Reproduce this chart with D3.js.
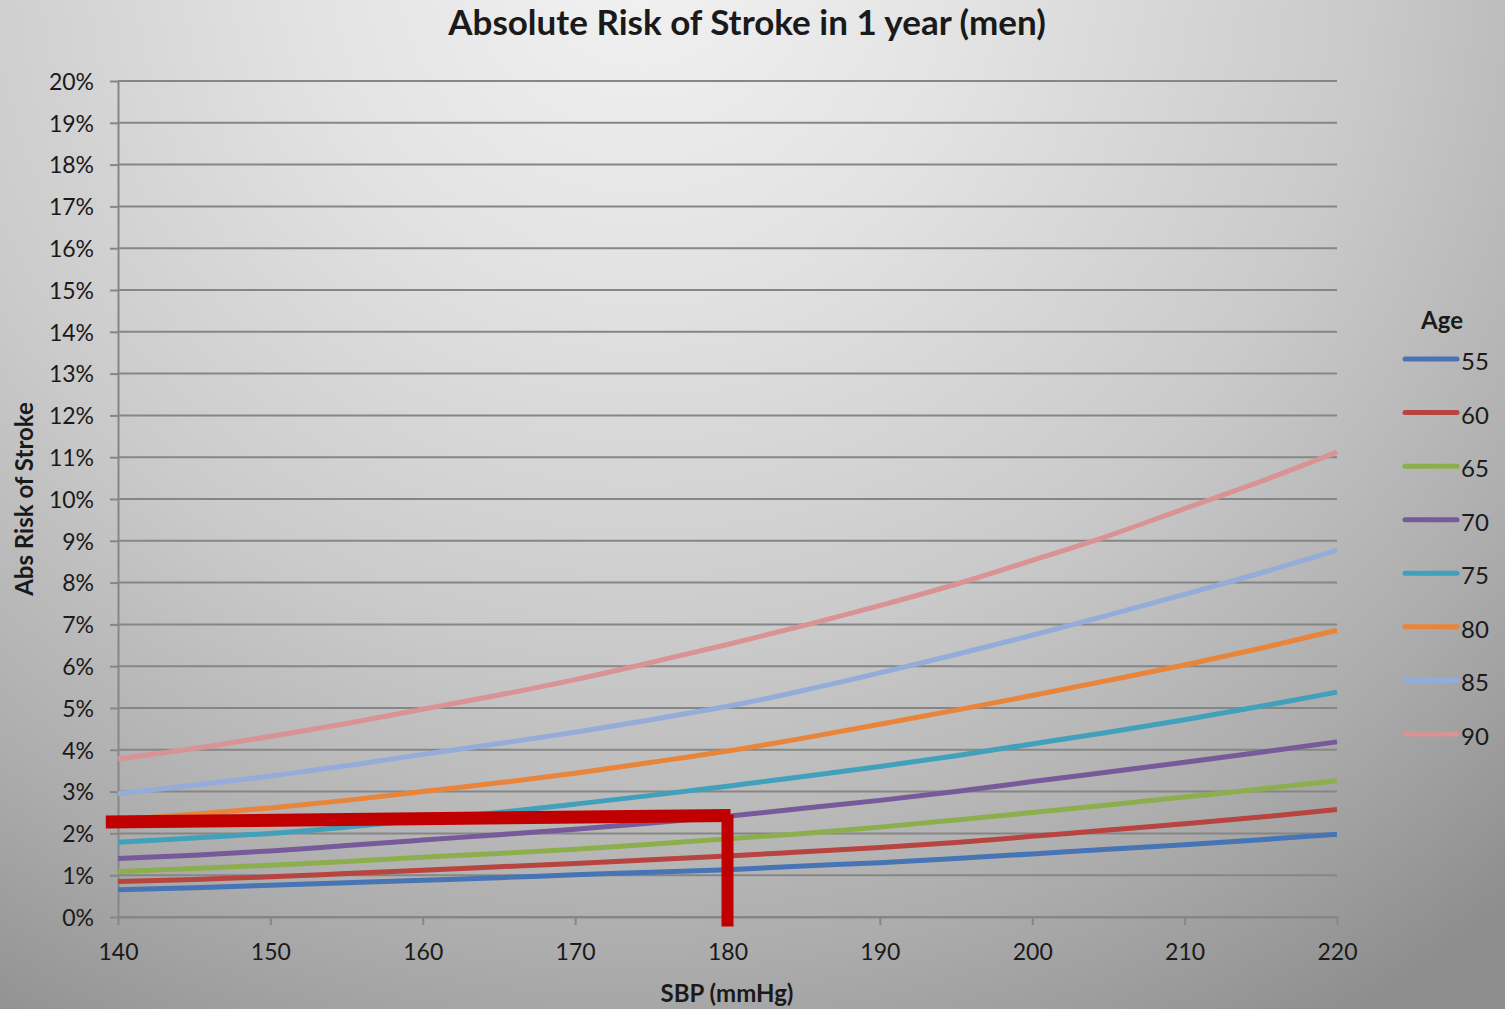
<!DOCTYPE html>
<html>
<head>
<meta charset="utf-8">
<script src="https://cdn.jsdelivr.net/npm/d3@7"></script>
<style>
  html, body { margin: 0; padding: 0; background: #c8c8c8; }
  svg { display: block; }
  text { font-family: Lato, "Open Sans", sans-serif; fill: #1a1a1a; }
</style>
</head>
<body>
<svg id="chart" width="1505" height="1009"></svg>
<script>
// Systolic blood pressure (mmHg) sampled every 5 mmHg
const sbp = [140, 145, 150, 155, 160, 165, 170, 175, 180, 185, 190, 195, 200, 205, 210, 215, 220];

// Absolute 1-year stroke risk (%) by age group
const age55 = [0.65, 0.70, 0.76, 0.82, 0.88, 0.94, 1.01, 1.07, 1.13, 1.22, 1.30, 1.40, 1.51, 1.62, 1.73, 1.85, 1.98];
const age60 = [0.85, 0.90, 0.96, 1.04, 1.12, 1.20, 1.28, 1.37, 1.46, 1.56, 1.66, 1.78, 1.93, 2.08, 2.23, 2.39, 2.57];
const age65 = [1.09, 1.16, 1.24, 1.33, 1.43, 1.52, 1.62, 1.74, 1.87, 2.00, 2.15, 2.32, 2.50, 2.68, 2.87, 3.06, 3.26];
const age70 = [1.40, 1.48, 1.58, 1.71, 1.84, 1.97, 2.10, 2.25, 2.41, 2.60, 2.79, 3.00, 3.24, 3.47, 3.70, 3.94, 4.19];
const age75 = [1.79, 1.89, 2.00, 2.15, 2.32, 2.50, 2.70, 2.91, 3.13, 3.36, 3.60, 3.86, 4.14, 4.42, 4.72, 5.04, 5.38];
const age80 = [2.33, 2.46, 2.61, 2.79, 3.00, 3.21, 3.44, 3.70, 3.97, 4.28, 4.61, 4.95, 5.30, 5.66, 6.03, 6.43, 6.86];
const age85 = [2.95, 3.15, 3.37, 3.62, 3.89, 4.15, 4.42, 4.72, 5.04, 5.42, 5.84, 6.28, 6.74, 7.22, 7.72, 8.23, 8.77];
const age90 = [3.78, 4.03, 4.32, 4.63, 4.97, 5.31, 5.68, 6.09, 6.52, 6.97, 7.45, 7.96, 8.53, 9.12, 9.77, 10.42, 11.12];

const ageLabels = ["55", "60", "65", "70", "75", "80", "85", "90"];
const ageSeries = [age55, age60, age65, age70, age75, age80, age85, age90];
const ageColors = ["#4674B4", "#B84440", "#8DAE4C", "#765A9A", "#41A0BA", "#E8853A", "#93ACDA", "#D99394"];

// Axis ticks
const xTickValues = [140, 150, 160, 170, 180, 190, 200, 210, 220];
const yTickValues = [0, 1, 2, 3, 4, 5, 6, 7, 8, 9, 10, 11, 12, 13, 14, 15, 16, 17, 18, 19, 20];

// Red reading guide: from the y axis across to SBP 180, then down to the x axis
const guideSbp = [139.2, 180.2];
const guideRisk = [2.27, 2.43];
const guideDrop = [2.45, -0.23];

const svg = d3.select("#chart");
const W = 1505, H = 1009;
const margin = { left: 118, right: W - 1337, top: 81, bottom: H - 917 };

// Background shading
const defs = svg.append("defs");
const bg = defs.append("radialGradient")
  .attr("id", "bgGrad")
  .attr("gradientUnits", "userSpaceOnUse")
  .attr("cx", 640).attr("cy", -40).attr("r", 1250)
  .attr("gradientTransform", "translate(640,-40) scale(1.05,1) translate(-640,40)");
[[0, "#f2f2f2"], [0.25, "#e3e3e3"], [0.55, "#cacaca"], [0.8, "#acacac"], [1, "#8e8e8e"]]
  .forEach(([o, c]) => bg.append("stop").attr("offset", o).attr("stop-color", c));
svg.append("rect").attr("width", W).attr("height", H).attr("fill", "url(#bgGrad)");

const x = d3.scaleLinear().domain([140, 220]).range([margin.left, W - margin.right]);
const y = d3.scaleLinear().domain([0, 20]).range([H - margin.bottom, margin.top]);

const gridColor = "#868686";

// Y axis with short tick stubs to the left
svg.append("g")
  .attr("transform", `translate(${margin.left},0)`)
  .call(d3.axisLeft(y).tickValues(yTickValues).tickSize(8).tickSizeOuter(0).tickFormat(d => d + "%").tickPadding(16))
  .call(g => {
    g.select(".domain").attr("stroke", gridColor).attr("stroke-width", 2);
    g.selectAll(".tick line").attr("stroke", gridColor).attr("stroke-width", 2);
    g.selectAll(".tick text").attr("font-size", 23).attr("fill", "#1a1a1a").attr("dy", "0.36em").attr("font-family", "Lato");
  });

// Horizontal gridlines
svg.append("g")
  .selectAll("line")
  .data(yTickValues)
  .join("line")
  .attr("x1", margin.left).attr("x2", W - margin.right)
  .attr("y1", d => y(d)).attr("y2", d => y(d))
  .attr("stroke", gridColor).attr("stroke-width", 2);

// X axis
svg.append("g")
  .attr("transform", `translate(0,${y(0)})`)
  .call(d3.axisBottom(x).tickValues(xTickValues).tickSize(8).tickSizeOuter(0).tickPadding(19))
  .call(g => {
    g.select(".domain").attr("stroke", gridColor).attr("stroke-width", 2);
    g.selectAll(".tick line").attr("stroke", gridColor).attr("stroke-width", 2);
    g.selectAll(".tick text").attr("font-size", 23).attr("fill", "#1a1a1a").attr("font-family", "Lato");
  });

// Risk curves
const line = d3.line()
  .x((d, i) => x(sbp[i]))
  .y(d => y(d))
  .curve(d3.curveMonotoneX);

svg.append("g")
  .selectAll("path")
  .data(ageSeries)
  .join("path")
  .attr("d", d => line(d))
  .attr("fill", "none")
  .attr("stroke", (d, i) => ageColors[i])
  .attr("stroke-width", 5)
  .attr("stroke-linecap", "butt")
  .attr("stroke-linejoin", "round");

// Reading guide
svg.append("path")
  .attr("d", `M${x(guideSbp[0])},${y(guideRisk[0])}L${x(guideSbp[1])},${y(guideRisk[1])}`)
  .attr("stroke", "#C00000").attr("stroke-width", 13).attr("fill", "none");
svg.append("line")
  .attr("x1", x(180)).attr("x2", x(180))
  .attr("y1", y(guideDrop[0])).attr("y2", y(guideDrop[1]))
  .attr("stroke", "#C00000").attr("stroke-width", 12);

// Titles
svg.append("text")
  .attr("x", 747).attr("y", 35)
  .attr("text-anchor", "middle")
  .attr("font-size", 35).attr("font-weight", "bold")
  .text("Absolute Risk of Stroke in 1 year (men)");

svg.append("text")
  .attr("x", 727).attr("y", 1002)
  .attr("text-anchor", "middle")
  .attr("font-size", 24).attr("font-weight", "bold")
  .text("SBP (mmHg)");

svg.append("text")
  .attr("transform", "translate(33,499) rotate(-90)")
  .attr("text-anchor", "middle")
  .attr("font-size", 24).attr("font-weight", "bold")
  .text("Abs Risk of Stroke");

// Legend
const legend = svg.append("g");
legend.append("text")
  .attr("x", 1442).attr("y", 329)
  .attr("text-anchor", "middle")
  .attr("font-size", 24).attr("font-weight", "bold")
  .text("Age");

const legendY = d3.scalePoint().domain(ageLabels).range([359, 734]);
const items = legend.selectAll("g.item")
  .data(ageLabels)
  .join("g")
  .attr("class", "item")
  .attr("transform", d => `translate(0,${legendY(d)})`);
items.append("line")
  .attr("x1", 1405).attr("x2", 1457)
  .attr("stroke", (d, i) => ageColors[i])
  .attr("stroke-width", 5)
  .attr("stroke-linecap", "round");
items.append("text")
  .attr("x", 1461).attr("y", 11)
  .attr("font-size", 24)
  .text(d => d);
</script>
</body>
</html>
